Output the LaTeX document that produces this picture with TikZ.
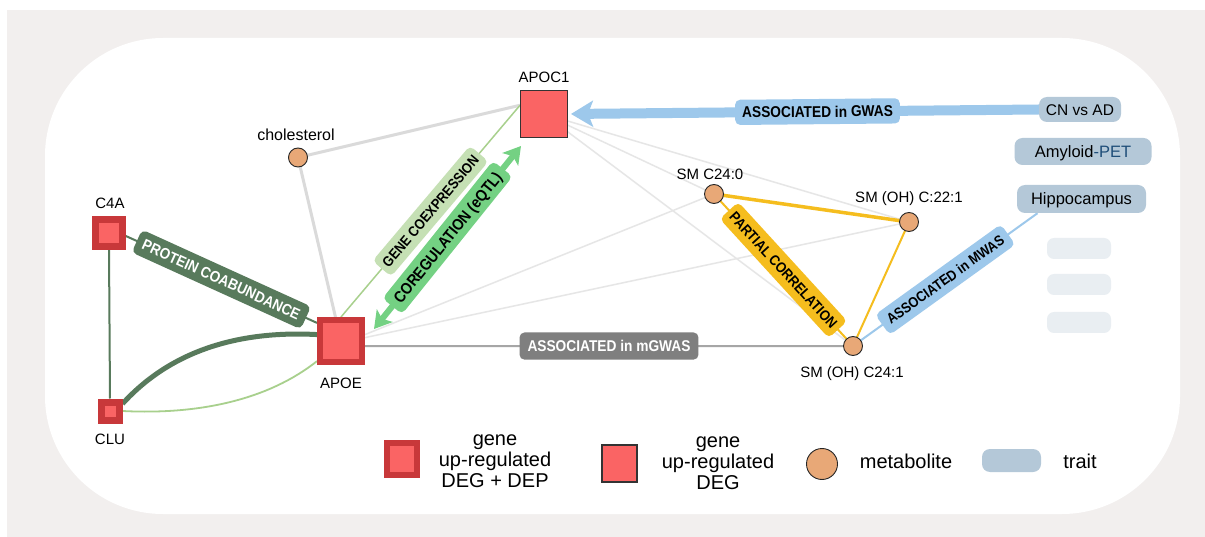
\documentclass[tikz,border=0pt]{standalone}
\usepackage{fontspec}
\setmainfont{Liberation Sans}
\newfontfamily\lblfont[FakeStretch=0.88]{Liberation Sans}
\usetikzlibrary{arrows.meta,calc}
\definecolor{bggray}{HTML}{F2EFEE}
\definecolor{degred}{HTML}{FA6464}
\definecolor{depred}{HTML}{C8383A}
\definecolor{metab}{HTML}{E8A877}
\definecolor{traitc}{HTML}{B4C8D8}
\definecolor{traitl}{HTML}{E9EEF2}
\definecolor{petblue}{HTML}{1F4E79}
\definecolor{dkgreen}{HTML}{587A5C}
\definecolor{ltgreen}{HTML}{A8D08D}
\definecolor{ltgreenbox}{HTML}{C5E0B4}
\definecolor{midgreen}{HTML}{74D183}
\definecolor{orangec}{HTML}{F5BD1E}
\definecolor{bluec}{HTML}{9DC8EB}
\definecolor{edgegray}{HTML}{E6E6E6}
\definecolor{mgray}{HTML}{A6A6A6}
\definecolor{mgraybox}{HTML}{7F7F7F}
\pgfdeclarelayer{bg}
\pgfdeclarelayer{edges}
\pgfsetlayers{bg,edges,main}
\begin{document}
\begin{tikzpicture}[x=1pt,y=-1pt,
  lab/.style={font=\fontsize{15}{16}\selectfont, inner sep=0pt, text height=10.8pt, text depth=0pt},
  degdep/.style={rectangle, fill=degred, draw=depred, inner sep=0pt},
  deg/.style={rectangle, fill=degred, draw=black!80, line width=1pt, minimum size=47pt, inner sep=0pt},
  met/.style={circle, fill=metab, draw=black!85, line width=0.9pt, minimum size=19pt, inner sep=0pt},
  trait/.style={rectangle, rounded corners=8pt, fill=traitc, font=\fontsize{16.5}{17}\selectfont, text height=11.9pt, text depth=0pt, inner sep=0pt},
  blank/.style={rectangle, rounded corners=7pt, fill=traitl, minimum width=64pt, minimum height=21pt, inner sep=0pt},
  elab/.style={rectangle, rounded corners=5pt, text=black, inner xsep=7pt, sloped},
  efs/.style n args={3}{font=\fontsize{#1}{#1}\lblfont\bfseries, text height=#2, text depth=0pt, inner ysep=#3},
  legtext/.style={font=\fontsize{20}{21}\selectfont, align=center, inner sep=0pt},
  graythick/.style={draw=edgegray!95!black, line width=3pt},
  graythin/.style={draw=edgegray, line width=1.5pt}
]
\useasboundingbox (0,0) rectangle (1205,537);
\begin{pgfonlayer}{bg}
\fill[white] (0,0) rectangle (1205,537);
\fill[bggray] (7,10) rectangle (1205,537);
\fill[white, rounded corners=118pt] (45,38) rectangle (1180,514);
\end{pgfonlayer}

% nodes
\node[deg] (apoc1) at (544,114) {};
\node[lab] (apoc1l) at (544,77) {APOC1};
\node[degdep, minimum size=42pt, line width=6pt] (apoe) at (341,341) {};
\node[lab] (apoel) at (341,383) {APOE};
\node[degdep, minimum size=27pt, line width=6.5pt] (c4a) at (109,233) {};
\node[lab] (c4al) at (110,203) {C4A};
\node[degdep, minimum size=18pt, line width=7pt] (clu) at (110,411) {};
\node[lab] (clul) at (110,439) {CLU};
\node[met] (chol) at (298,157.5) {};
\node[lab, font=\fontsize{16}{17}\selectfont] (choll) at (296,135) {cholesterol};
\node[met] (sm240) at (714,194) {};
\node[lab] (sm240l) at (710,174) {SM C24:0};
\node[met] (sm221) at (909,222) {};
\node[lab] (sm221l) at (909,197) {SM (OH) C:22:1};
\node[met] (sm241) at (853,346) {};
\node[lab] (sm241l) at (852,372) {SM (OH) C24:1};

\node[trait, minimum width=82pt, minimum height=25pt] (cnad) at (1080,109.5) {\fontsize{15.5}{16}\selectfont CN vs AD};
\node[trait, minimum width=137pt, minimum height=27pt] (amyl) at (1083,151.5) {Amyloid\textcolor{petblue}{-PET}};
\node[trait, minimum width=129pt, minimum height=28pt] (hippo) at (1081.5,199) {Hippocampus};
\node[blank] (b1) at (1079,248.5) {};
\node[blank] (b2) at (1079,284.5) {};
\node[blank] (b3) at (1079,322.5) {};

\coordinate (coA) at ($(apoe.north east)+(9,12)$);
\coordinate (coB) at ($(apoc1.south west)+(1,8)$);
\coordinate (hipA) at ($(hippo.south west)!0.16!(hippo.south east)$);

% edges
\begin{pgfonlayer}{edges}
\draw[graythick] (chol.center) -- (apoc1.160);
\draw[graythick] (chol.center) -- (apoe.103);
\draw[graythin] (apoc1.center) -- (sm240.center);
\draw[graythin] (apoc1.center) -- (sm221.center);
\draw[graythin] (apoc1.center) -- (sm241.center);
\draw[graythin] (apoe.15) -- (sm240.center);
\draw[graythin] (apoe.8) -- (sm221.center);
\draw[mgray, line width=2pt] (apoe.-12) -- node[elab, efs={15.6}{11.2pt}{8pt}, fill=mgraybox, text=white, inner xsep=8pt] {ASSOCIATED in mGWAS} (sm241.center);
\draw[orangec, line width=3.5pt] (sm240.center) -- (sm221.center);
\draw[orangec, line width=2pt] (sm221.center) -- (sm241.center);
\draw[orangec, line width=2pt] (sm240.center) -- node[elab, efs={14.6}{10.5pt}{7.3pt}, fill=orangec, inner xsep=5pt] {PARTIAL CORRELATION} (sm241.center);
\draw[bluec, line width=2pt] (sm241.center) -- node[elab, efs={14.5}{10.4pt}{7.3pt}, fill=bluec] {ASSOCIATED in MWAS} (hipA);
\draw[bluec, line width=10pt, -{Stealth[length=22pt,width=26pt,inset=5pt]}, shorten >=3pt] (cnad.west) -- node[elab, efs={15.6}{11.2pt}{7pt}, fill=bluec, pos=0.47] {ASSOCIATED in GWAS} (apoc1.east);
\draw[ltgreen, line width=1.5pt] (apoe.north) -- node[elab, efs={14.4}{10.3pt}{7pt}, fill=ltgreenbox, inner xsep=5pt] {GENE COEXPRESSION} (apoc1.160);
\draw[midgreen, line width=6pt, {Stealth[length=17pt,width=20pt,inset=4pt]}-{Stealth[length=17pt,width=20pt,inset=4pt]}] (coA) -- node[elab, efs={16}{11.5pt}{6.8pt}, fill=midgreen] {COREGULATION (eQTL)} (coB);
\draw[dkgreen, line width=2pt] (c4a.south) -- (clu.north);
\draw[dkgreen, line width=5pt] (clu.30) .. controls +(50,-55) and +(-75,-4) .. (apoe.165);
\draw[ltgreen, line width=1.8pt] (clu.east) .. controls +(78,4) and +(-48,38) .. (apoe.-140);
\draw[dkgreen, line width=2pt] (c4a.-10) -- node[elab, efs={15.4}{11pt}{7pt}, fill=dkgreen, text=white] {PROTEIN COABUNDANCE} (apoe.143);
\end{pgfonlayer}

% legend
\node[degdep, minimum width=30pt, minimum height=32pt, line width=6pt] (lg1) at (402,459) {};
\node[legtext] (lg1t) at (495,461) {gene\\up-regulated\\DEG + DEP};
\node[rectangle, fill=degred, draw=black!80, line width=1.5pt, inner sep=0pt, minimum width=35pt, minimum height=37pt] (lg2) at (619.5,463.5) {};
\node[legtext] (lg2t) at (718,463) {gene\\up-regulated\\DEG};
\node[met, minimum size=31pt] (lg3) at (822,464) {};
\node[legtext] (lg3t) at (906,461) {metabolite};
\node[trait, minimum width=59pt, minimum height=23pt] (lg4) at (1011.5,460.5) {};
\node[legtext] (lg4t) at (1080,461) {trait};
\end{tikzpicture}
\end{document}
